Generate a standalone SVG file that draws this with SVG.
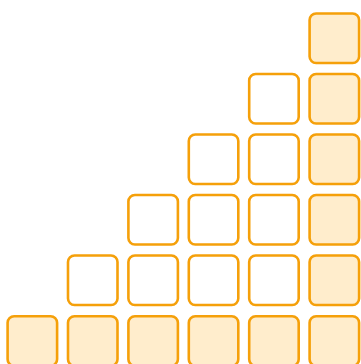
<svg xmlns="http://www.w3.org/2000/svg" width="361" height="364" viewBox="0 0 361 364">
<style>
rect.b{stroke:#f5a00a;stroke-width:2.6;rx:6.5px;ry:6.5px}
rect.f{fill:#ffedcc}
rect.e{fill:#ffffff}
</style>
<rect width="361" height="364" fill="#ffffff"/>
<g id="r0c5"><rect class="b f" x="309.6" y="13.5" width="49.5" height="49.5"/></g>
<g id="r1c4"><rect class="b e" x="249.2" y="74" width="49.5" height="49.5"/></g>
<g id="r1c5"><rect class="b f" x="309.6" y="74" width="49.5" height="49.5"/></g>
<g id="r2c3"><rect class="b e" x="188.8" y="134.5" width="49.5" height="49.5"/></g>
<g id="r2c4"><rect class="b e" x="249.2" y="134.5" width="49.5" height="49.5"/></g>
<g id="r2c5"><rect class="b f" x="309.6" y="134.5" width="49.5" height="49.5"/></g>
<g id="r3c2"><rect class="b e" x="128.4" y="195" width="49.5" height="49.5"/></g>
<g id="r3c3"><rect class="b e" x="188.8" y="195" width="49.5" height="49.5"/></g>
<g id="r3c4"><rect class="b e" x="249.2" y="195" width="49.5" height="49.5"/></g>
<g id="r3c5"><rect class="b f" x="309.6" y="195" width="49.5" height="49.5"/></g>
<g id="r4c1"><rect class="b e" x="68" y="255.5" width="49.5" height="49.5"/></g>
<g id="r4c2"><rect class="b e" x="128.4" y="255.5" width="49.5" height="49.5"/></g>
<g id="r4c3"><rect class="b e" x="188.8" y="255.5" width="49.5" height="49.5"/></g>
<g id="r4c4"><rect class="b e" x="249.2" y="255.5" width="49.5" height="49.5"/></g>
<g id="r4c5"><rect class="b f" x="309.6" y="255.5" width="49.5" height="49.5"/></g>
<g id="r5c0"><rect class="b f" x="7.6" y="316.2" width="49.5" height="49.5"/></g>
<g id="r5c1"><rect class="b f" x="68" y="316.2" width="49.5" height="49.5"/></g>
<g id="r5c2"><rect class="b f" x="128.4" y="316.2" width="49.5" height="49.5"/></g>
<g id="r5c3"><rect class="b f" x="188.8" y="316.2" width="49.5" height="49.5"/></g>
<g id="r5c4"><rect class="b f" x="249.2" y="316.2" width="49.5" height="49.5"/></g>
<g id="r5c5"><rect class="b f" x="309.6" y="316.2" width="49.5" height="49.5"/></g>
<g id="connectors"></g>
</svg>
